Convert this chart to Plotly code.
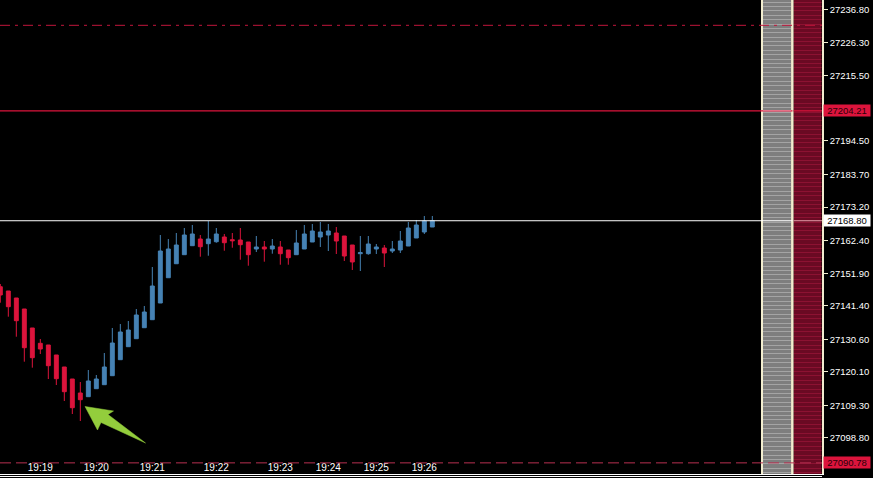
import plotly.graph_objects as go

# ---------------- data ----------------
bar_index = list(range(55))
opens = [27147.54, 27146.16, 27143.90, 27140.36, 27134.24, 27129.30, 27128.76, 27125.54, 27121.67, 27117.80,
         27113.29, 27112.10, 27114.68, 27115.97, 27118.87, 27124.02, 27128.21, 27130.79, 27134.33, 27136.91,
         27142.29, 27150.44, 27154.95, 27157.86, 27160.76, 27162.91, 27161.40, 27162.04, 27163.56, 27162.69,
         27162.59, 27161.95, 27159.69, 27160.34, 27159.69, 27160.34, 27159.37, 27157.86, 27159.69, 27161.95,
         27163.56, 27164.20, 27164.85, 27163.88, 27160.98, 27158.18, 27158.18, 27159.69, 27160.01, 27159.05,
         27159.37, 27160.66, 27163.24, 27165.17, 27166.78]
highs = [27148.41, 27146.16, 27143.90, 27140.36, 27134.24, 27130.69, 27128.76, 27125.54, 27121.67, 27117.80,
         27116.83, 27120.70, 27119.09, 27126.18, 27134.24, 27135.52, 27136.49, 27140.36, 27141.33, 27153.89,
         27164.20, 27162.91, 27164.85, 27166.46, 27167.43, 27164.20, 27168.71, 27166.46, 27164.53, 27164.85,
         27166.46, 27161.95, 27163.88, 27162.27, 27162.91, 27162.27, 27159.37, 27165.81, 27167.43, 27167.75,
         27168.39, 27167.75, 27166.78, 27163.88, 27160.98, 27163.88, 27163.88, 27161.30, 27160.98, 27162.27,
         27165.49, 27168.39, 27169.04, 27170.33, 27170.33]
lows = [27142.39, 27137.88, 27131.43, 27123.38, 27121.45, 27125.86, 27117.80, 27115.87, 27110.71, 27106.52,
        27104.27, 27112.10, 27114.68, 27115.97, 27118.87, 27124.02, 27128.21, 27130.79, 27134.33, 27136.91,
        27142.29, 27150.44, 27154.95, 27157.86, 27160.76, 27157.21, 27157.53, 27161.72, 27159.14, 27160.11,
        27156.24, 27154.31, 27158.72, 27155.60, 27158.18, 27154.63, 27154.63, 27157.86, 27159.69, 27161.95,
        27160.34, 27159.05, 27158.08, 27155.83, 27152.93, 27152.60, 27157.86, 27158.08, 27153.89, 27158.40,
        27158.40, 27160.66, 27163.24, 27164.53, 27166.78]
closes = [27144.87, 27141.10, 27136.59, 27127.89, 27124.67, 27127.47, 27122.09, 27117.90, 27113.71, 27108.55,
          27111.13, 27117.16, 27117.80, 27121.67, 27129.40, 27132.95, 27133.59, 27138.43, 27139.39, 27147.77,
          27159.05, 27159.69, 27160.98, 27164.20, 27164.53, 27160.43, 27162.91, 27164.53, 27161.72, 27162.37,
          27161.08, 27157.86, 27160.34, 27159.69, 27160.66, 27158.18, 27156.89, 27161.63, 27164.53, 27165.49,
          27165.17, 27165.49, 27162.27, 27157.44, 27155.51, 27158.50, 27161.30, 27160.34, 27158.40, 27159.69,
          27162.27, 27166.46, 27167.43, 27168.71, 27168.80]

time_tick_index = [5, 12, 19, 27, 35, 41, 47, 53]
time_tick_text = ["19:19", "19:20", "19:21", "19:22", "19:23", "19:24", "19:25", "19:26"]

price_ticks = [27236.80, 27226.30, 27215.50, 27194.50, 27183.70, 27173.20, 27162.40,
               27151.90, 27141.40, 27130.60, 27120.10, 27109.30, 27098.80, 27088.30]

red_level = 27204.21
last_price = 27168.80
upper_level = 27231.77
lower_level = 27090.78

y_range = [27087.19, 27239.93]
x_range = [-0.04, 102.71]

# ---------------- style ----------------
W, H = 873, 478
ML, MR, MT, MB = 0, 51, 0, 4
PW, PH = W - ML - MR, H - MT - MB
UP = "#4682B4"
DOWN = "#DC143C"
CREAM = "#F2EDCF"
FONT = "Liberation Sans, Arial, sans-serif"


def px(x):
    return (x - ML) / PW


def py(y):
    return 1 - (y - MT) / PH


fig = go.Figure()
fig.add_trace(go.Candlestick(
    x=bar_index, open=opens, high=highs, low=lows, close=closes,
    increasing=dict(line=dict(color=UP, width=1), fillcolor=UP),
    decreasing=dict(line=dict(color=DOWN, width=1), fillcolor=DOWN),
    whiskerwidth=0, hoverinfo="skip", showlegend=False,
))

shapes = []
# right side profile bars
gx0, gx1 = 763, 791
rx0, rx1 = 793.5, 821.5
shapes.append(dict(type="rect", xref="paper", yref="paper", x0=px(gx0), x1=px(gx1), y0=0, y1=1,
                   fillcolor="#7E7E7E", line=dict(width=0), layer="above"))
shapes.append(dict(type="rect", xref="paper", yref="paper", x0=px(rx0), x1=px(rx1), y0=0, y1=1,
                   fillcolor="#6A0A23", line=dict(width=0), layer="above"))
yy = 2.0
while yy < PH:
    yc = int(yy) + 0.5
    shapes.append(dict(type="line", xref="paper", yref="paper", x0=px(gx0), x1=px(gx1), y0=py(yc), y1=py(yc),
                       line=dict(color="#A4A4A4", width=1), layer="above"))
    shapes.append(dict(type="line", xref="paper", yref="paper", x0=px(rx0), x1=px(rx1), y0=py(yc), y1=py(yc),
                       line=dict(color="#8C1232", width=1), layer="above"))
    yy += 4.4
for xb, wb in [(762, 2), (792.3, 2.5)]:
    shapes.append(dict(type="line", xref="paper", yref="paper", x0=px(xb), x1=px(xb), y0=0, y1=1,
                       line=dict(color=CREAM, width=wb), layer="above"))

# horizontal levels
shapes.append(dict(type="line", xref="paper", yref="y", x0=0, x1=px(rx0 - 1), y0=red_level, y1=red_level,
                   line=dict(color=DOWN, width=1.2), layer="above"))
shapes.append(dict(type="line", xref="paper", yref="y", x0=px(rx0), x1=1, y0=red_level, y1=red_level,
                   line=dict(color=DOWN, width=1.2), layer="above"))
shapes.append(dict(type="line", xref="paper", yref="y", x0=px(gx0), x1=px(gx1), y0=red_level, y1=red_level,
                   line=dict(color="#F28A9C", width=1.2), layer="above"))
shapes.append(dict(type="line", xref="paper", yref="y", x0=0, x1=px(rx0 - 1), y0=last_price, y1=last_price,
                   line=dict(color="#FFFFFF", width=1), layer="above"))
shapes.append(dict(type="line", xref="paper", yref="y", x0=px(rx0), x1=1, y0=last_price, y1=last_price,
                   line=dict(color="#E8A0AC", width=1), layer="above"))
shapes.append(dict(type="line", xref="paper", yref="y", x0=0, x1=1, y0=upper_level, y1=upper_level,
                   line=dict(color="#C0163C", width=1, dash="10px,5px,3px,5px"), layer="above"))
shapes.append(dict(type="line", xref="paper", yref="y", x0=0, x1=1, y0=lower_level, y1=lower_level,
                   line=dict(color="#B83050", width=1, dash="11px,5px"), layer="above"))
# bottom double frame line
shapes.append(dict(type="line", xref="paper", yref="paper", x0=0, x1=1, y0=py(476.5), y1=py(476.5),
                   line=dict(color="#FFFFFF", width=1), layer="above"))

# green arrow pointing at the low
arrow_pts = [(85, 406.5), (113.5, 411), (108, 414.5), (145.5, 443), (101, 422.5), (97.5, 430)]
path = "M " + " L ".join(f"{px(a):.5f},{py(b):.5f}" for a, b in arrow_pts) + " Z"
shapes.append(dict(type="path", xref="paper", yref="paper", path=path,
                   fillcolor="#93CD3C", line=dict(color="#93CD3C", width=0.5), layer="above"))

annotations = []
for val, bg, fg in [(red_level, DOWN, "#2A0008"), (last_price, "#FFFFFF", "#000000"), (lower_level, DOWN, "#2A0008")]:
    annotations.append(dict(xref="paper", yref="y", x=1, y=val, xanchor="left", yanchor="middle",
                            xshift=1, text=f"{val:.2f}", showarrow=False, bgcolor=bg,
                            font=dict(family=FONT, size=9.5, color=fg), width=46, height=11,
                            align="center", borderpad=0))

fig.update_layout(
    width=W, height=H,
    margin=dict(l=ML, r=MR, t=MT, b=MB),
    paper_bgcolor="#000000", plot_bgcolor="#000000",
    shapes=shapes, annotations=annotations,
    showlegend=False,
    xaxis=dict(range=x_range, rangeslider=dict(visible=False), showgrid=False, zeroline=False,
               tickmode="array", tickvals=time_tick_index, ticktext=time_tick_text,
               ticklabelposition="inside", ticks="", showline=True, linecolor="#FFFFFF", linewidth=1,
               tickfont=dict(family=FONT, size=10, color="#FFFFFF"), automargin=False, fixedrange=True),
    yaxis=dict(range=y_range, side="right", showgrid=False, zeroline=False,
               tickmode="array", tickvals=price_ticks, ticktext=[f"{v:.2f}" for v in price_ticks],
               ticks="outside", ticklen=4, tickcolor=CREAM, showline=True, linecolor=CREAM, linewidth=1.5,
               tickfont=dict(family=FONT, size=9.5, color="#FFFFFF"), automargin=False, fixedrange=True),
)

fig.write_html("out.html", config={"displayModeBar": False},
               post_script="document.body.style.margin='0px';document.body.style.background='#000';")
